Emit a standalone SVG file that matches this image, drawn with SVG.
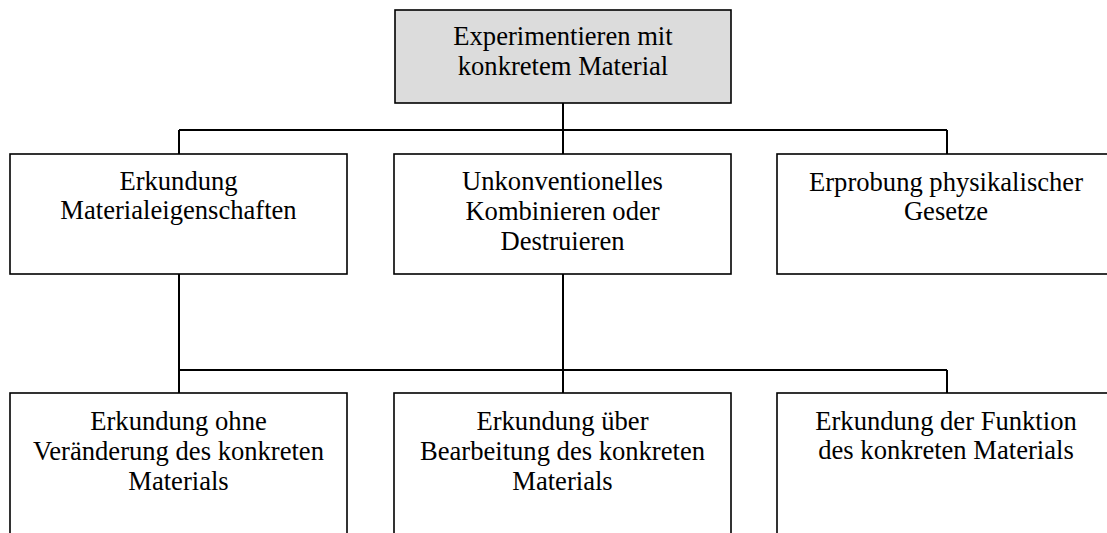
<svg xmlns="http://www.w3.org/2000/svg" width="1107" height="533" viewBox="0 0 1107 533">
<style>
.box{fill:#ffffff;stroke:#000000;stroke-width:1.6}
.root{fill:#dcdcdc;stroke:#000000;stroke-width:1.6}
.t{font-family:"Liberation Serif","Times New Roman",serif;font-size:26.6px;fill:#000000;text-anchor:middle}
.c{fill:none;stroke:#000000;stroke-width:2}
</style>
<rect width="1107" height="533" fill="#ffffff"/>
<g id="connectors">
<path class="c" d="M563 103V130M179 130H947M179 130V154M563 130V154M947 130V154"/>
<path class="c" d="M179 274V393M563 274V393M179 370H947M947 370V393"/>
</g>
<g id="root">
<rect class="root" x="395" y="10" width="336" height="93"/>
<text class="t" x="563" y="45">Experimentieren mit</text>
<text class="t" x="563" y="75">konkretem Material</text>
</g>
<g id="n1">
<rect class="box" x="10" y="154" width="337" height="120"/>
<text class="t" x="178.5" y="190">Erkundung</text>
<text class="t" x="178.5" y="219">Materialeigenschaften</text>
</g>
<g id="n2">
<rect class="box" x="394" y="154" width="337" height="120"/>
<text class="t" x="562.5" y="190">Unkonventionelles</text>
<text class="t" x="562.5" y="220">Kombinieren oder</text>
<text class="t" x="562.5" y="250">Destruieren</text>
</g>
<g id="n3">
<rect class="box" x="777" y="154" width="338" height="120"/>
<text class="t" x="946" y="191">Erprobung physikalischer</text>
<text class="t" x="946" y="220">Gesetze</text>
</g>
<g id="n4">
<rect class="box" x="10" y="393" width="337" height="170"/>
<text class="t" x="178.5" y="430">Erkundung ohne</text>
<text class="t" x="178.5" y="460">Veränderung des konkreten</text>
<text class="t" x="178.5" y="490">Materials</text>
</g>
<g id="n5">
<rect class="box" x="394" y="393" width="337" height="170"/>
<text class="t" x="562.5" y="430">Erkundung über</text>
<text class="t" x="562.5" y="460">Bearbeitung des konkreten</text>
<text class="t" x="562.5" y="490">Materials</text>
</g>
<g id="n6">
<rect class="box" x="777" y="393" width="338" height="170"/>
<text class="t" x="946" y="430">Erkundung der Funktion</text>
<text class="t" x="946" y="459">des konkreten Materials</text>
</g>
</svg>
